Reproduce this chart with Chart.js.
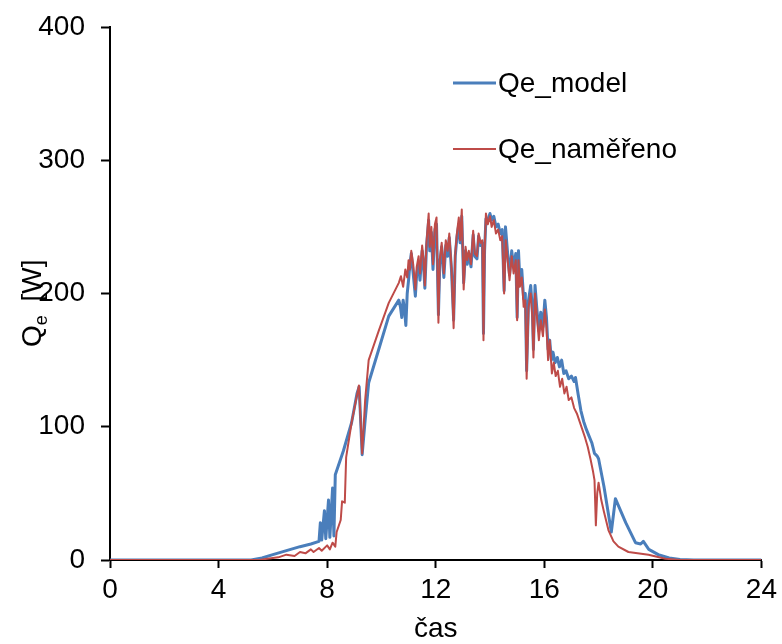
<!DOCTYPE html>
<html>
<head>
<meta charset="utf-8">
<script src="https://cdn.jsdelivr.net/npm/chart.js@4.4.1/dist/chart.umd.min.js"></script>
<style>
  body { margin: 0; background: #fff; }
  #wrap { width: 782px; height: 644px; }
</style>
</head>
<body>
<div id="wrap"><canvas id="myChart" width="782" height="644"></canvas></div>
<script>
// hours of day + power [W]
const timeModel = [0, 5.2, 5.6, 6.0, 6.5, 7.0, 7.4, 7.7, 7.75, 7.8, 7.9, 7.95, 8.05, 8.1, 8.2, 8.25, 8.3,
  8.6, 8.9, 9.1, 9.18, 9.29, 9.4, 9.53, 9.9, 10.27, 10.64, 10.7, 10.75, 10.8, 10.85, 10.9, 10.95, 11.0,
  11.05, 11.1, 11.17, 11.25, 11.3, 11.37, 11.42, 11.5, 11.55, 11.6, 11.66, 11.74, 11.78, 11.84, 11.9,
  11.97, 12.03, 12.1, 12.15, 12.22, 12.3, 12.37, 12.44, 12.5, 12.58, 12.66, 12.72, 12.78, 12.85, 12.9,
  12.96, 13.03, 13.1, 13.16, 13.22, 13.3, 13.38, 13.44, 13.52, 13.58, 13.65, 13.72, 13.76, 13.8, 13.85,
  13.92, 14.0, 14.06, 14.14, 14.22, 14.3, 14.38, 14.45, 14.52, 14.57, 14.65, 14.72, 14.8, 14.87, 14.95,
  15.0, 15.05, 15.1, 15.17, 15.24, 15.3, 15.35, 15.42, 15.5, 15.56, 15.6, 15.66, 15.72, 15.8, 15.87,
  15.95, 16.02, 16.08, 16.14, 16.2, 16.26, 16.32, 16.4, 16.48, 16.56, 16.64, 16.72, 16.8, 16.9, 17.0,
  17.1, 17.15, 17.25, 17.35, 17.45, 17.55, 17.65, 17.75, 17.85, 17.95, 18.0, 18.2, 18.47, 18.62, 19.0,
  19.36, 19.55, 19.65, 19.85, 20.2, 20.6, 21.0, 21.5, 24];
const qeModel = [0, 0, 1.5, 4, 7, 10, 12, 14, 28, 15, 37, 16, 45, 17, 54, 18, 64,
  82, 103, 125, 130, 79, 105, 133, 158, 183, 195, 190, 182, 195, 188, 176, 200, 210,
  222, 230, 215, 198, 215, 222, 210, 232, 222, 204, 235, 255, 232, 246, 218,
  248, 252, 184, 222, 235, 212, 236, 228, 242, 218, 180, 228, 242, 252, 238,
  258, 208, 232, 222, 230, 220, 244, 228, 226, 243, 236, 238, 170, 232, 256,
  255, 260, 255, 258, 250, 252, 245, 248, 202, 250, 230, 214, 232, 220, 230,
  182, 232, 210, 218, 196, 200, 142, 195, 206, 188, 158, 206, 190, 172, 186,
  175, 195, 182, 158, 165, 150, 156, 148, 152, 145, 150, 140, 142, 136, 138,
  134, 137, 124, 112, 104, 98, 93, 88, 80, 78, 76, 55, 21, 46, 28,
  13, 12, 14, 8, 4, 1.5, 0.3, 0, 0];

const timeMeasured = [0, 5.5, 5.8, 6.2, 6.5, 6.8, 7.0, 7.2, 7.4, 7.5, 7.7, 7.8, 8.0, 8.1, 8.2, 8.3, 8.35,
  8.5, 8.55, 8.65, 8.7, 8.9, 9.17, 9.29, 9.4, 9.53, 9.9, 10.27, 10.64, 10.72, 10.8, 10.88, 10.95, 11.0,
  11.05, 11.1, 11.17, 11.25, 11.3, 11.37, 11.42, 11.5, 11.55, 11.6, 11.66, 11.74, 11.78, 11.84, 11.9,
  11.97, 12.03, 12.1, 12.15, 12.22, 12.3, 12.37, 12.44, 12.5, 12.58, 12.66, 12.72, 12.78, 12.85, 12.9,
  12.96, 13.03, 13.1, 13.16, 13.22, 13.3, 13.38, 13.44, 13.52, 13.58, 13.65, 13.72, 13.76, 13.8, 13.85,
  13.92, 14.0, 14.06, 14.14, 14.22, 14.3, 14.38, 14.45, 14.52, 14.58, 14.65, 14.72, 14.8, 14.87, 14.95,
  15.0, 15.05, 15.1, 15.17, 15.24, 15.3, 15.35, 15.42, 15.5, 15.56, 15.6, 15.66, 15.72, 15.8, 15.87,
  15.95, 16.02, 16.08, 16.14, 16.2, 16.28, 16.35, 16.42, 16.5, 16.58, 16.66, 16.74, 16.82, 16.9, 17.0,
  17.1, 17.2, 17.3, 17.4, 17.5, 17.6, 17.7, 17.8, 17.85, 17.9, 17.95, 18.0, 18.1, 18.2, 18.37, 18.55,
  18.73, 19.1, 19.84, 20.46, 21.0, 24];
const qeMeasured = [0, 0, 1, 2, 4, 3, 6, 5, 8, 6, 9, 7, 11, 8, 13, 10, 21,
  30, 44, 43, 77, 103, 131, 80, 120, 150, 172, 193, 208, 213, 205, 218, 212, 225,
  218, 232, 222, 203, 220, 228, 215, 236, 226, 206, 238, 260, 235, 250, 222,
  252, 257, 178, 225, 238, 215, 240, 232, 245, 220, 174, 230, 245, 257, 240,
  263, 203, 235, 225, 232, 222, 247, 230, 228, 245, 238, 240, 165, 230, 260,
  252, 258, 250, 255, 245, 248, 240, 243, 200, 240, 225, 210, 228, 215, 225,
  180, 225, 205, 212, 190, 195, 136, 190, 200, 182, 152, 200, 185, 165, 180,
  168, 188, 175, 150, 165, 140, 148, 138, 142, 130, 136, 125, 130, 120, 122,
  114, 110, 104, 98, 92, 85, 76, 66, 60, 26, 50, 58, 45, 36, 22, 14,
  10, 6, 4, 1, 0, 0];

const xTicks = [0, 4, 8, 12, 16, 20, 24];
const yTicks = [0, 100, 200, 300, 400];

const FONT = "'Liberation Sans', Arial, sans-serif";
const BLUE = "#4a7ebb";
const RED = "#be4b48";

const toPoints = (xs, ys) => xs.map((x, i) => ({ x: x, y: ys[i] }));

// legend sits inside the plot, top right
const legendInside = {
  id: "legendInside",
  afterDraw: (chart) => {
    const ctx = chart.ctx;
    const items = [
      { ds: chart.data.datasets[0], y: 83 },
      { ds: chart.data.datasets[1], y: 149 },
    ];
    ctx.save();
    ctx.font = "28px " + FONT;
    ctx.textBaseline = "middle";
    ctx.fillStyle = "#000";
    items.forEach((it) => {
      ctx.strokeStyle = it.ds.borderColor;
      ctx.lineWidth = it.ds.borderWidth;
      ctx.beginPath();
      ctx.moveTo(453, it.y);
      ctx.lineTo(496, it.y);
      ctx.stroke();
      ctx.fillText(it.ds.label, 498, it.y + 1);
    });
    ctx.restore();
  },
};

// y title with subscript e
const yTitle = {
  id: "yTitle",
  afterDraw: (chart) => {
    const ctx = chart.ctx;
    ctx.save();
    ctx.translate(41, 347);
    ctx.rotate(-Math.PI / 2);
    ctx.fillStyle = "#000";
    ctx.textBaseline = "alphabetic";
    ctx.font = "28px " + FONT;
    ctx.fillText("Q", 0, 0);
    let w = ctx.measureText("Q").width;
    ctx.font = "18px " + FONT;
    ctx.fillText("e", w, 6);
    w += ctx.measureText("e").width;
    ctx.font = "28px " + FONT;
    ctx.fillText(" [W]", w + 6, 0);
    ctx.restore();
  },
};

const config = {
  type: "line",
  data: {
    datasets: [
      {
        label: "Qe_model",
        data: toPoints(timeModel, qeModel),
        borderColor: BLUE,
        backgroundColor: BLUE,
        borderWidth: 3,
        order: 1,
      },
      {
        label: "Qe_naměřeno",
        data: toPoints(timeMeasured, qeMeasured),
        borderColor: RED,
        backgroundColor: RED,
        borderWidth: 2,
        order: 0,
      },
    ],
  },
  options: {
    responsive: false,
    animation: false,
    elements: {
      point: { radius: 0 },
      line: { tension: 0, borderJoinStyle: "round" },
    },
    layout: { padding: { top: 27, right: 19, left: 0, bottom: 0 } },
    plugins: {
      legend: { display: false },
      tooltip: { enabled: false },
    },
    scales: {
      x: {
        type: "linear",
        min: 0,
        max: 24,
        afterBuildTicks: (scale) => {
          scale.ticks = xTicks.map((v) => ({ value: v }));
        },
        afterFit: (scale) => {
          scale.height = 84;
        },
        ticks: { font: { size: 28, family: FONT }, color: "#000", padding: 5, maxRotation: 0 },
        grid: { display: true, drawOnChartArea: false, tickLength: 8, tickColor: "#000", tickWidth: 2 },
        border: { color: "#000", width: 2 },
        title: { display: true, text: "čas", font: { size: 28, family: FONT }, color: "#000", padding: { top: 0, bottom: -2 } },
      },
      y: {
        min: 0,
        max: 400,
        afterBuildTicks: (scale) => {
          scale.ticks = yTicks.map((v) => ({ value: v }));
        },
        afterFit: (scale) => {
          scale.width = 110;
          scale.paddingTop = 0;
          scale.paddingBottom = 0;
        },
        ticks: { font: { size: 28, family: FONT }, color: "#000", padding: 16 },
        grid: { display: true, drawOnChartArea: false, tickLength: 9, tickColor: "#000", tickWidth: 2 },
        border: { color: "#000", width: 2 },
      },
    },
  },
  plugins: [legendInside, yTitle],
};

const chart = new Chart(document.getElementById("myChart"), config);
</script>
</body>
</html>
